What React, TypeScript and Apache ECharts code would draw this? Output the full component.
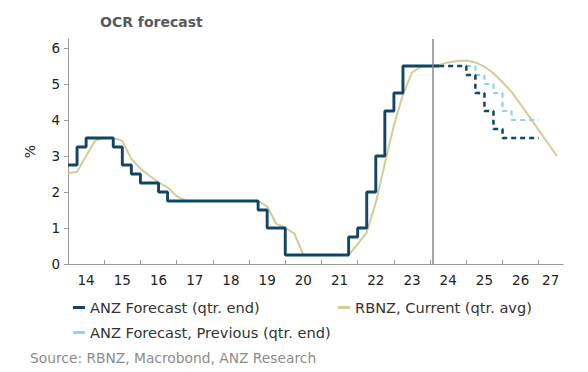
import React, { useEffect, useRef } from "react";
import * as echarts from "echarts";

// ---------- Data ----------
const TITLE = "OCR forecast";
const SOURCE = "Source: RBNZ, Macrobond, ANZ Research";
const Y_NAME = "%";

// Axis ticks (years) and label positions (mid-year; last one mid of partial 2027)
const xTickYears = [2014, 2015, 2016, 2017, 2018, 2019, 2020, 2021, 2022, 2023, 2024, 2025, 2026, 2027];
const xLabelPositions = [2014.5, 2015.5, 2016.5, 2017.5, 2018.5, 2019.5, 2020.5, 2021.5, 2022.5, 2023.5, 2024.5, 2025.5, 2026.5, 2027.33];
const yTicks = [0, 1, 2, 3, 4, 5, 6];
const X_MIN = 2014;
const X_MAX = 2027.67;
const Y_MAX = 6.25;
const CUTOFF = 2024.06;

// ANZ quarter-end OCR, history from 2014 Q1 to 2024 Q1 (drawn over each quarter)
const anzHistoryStart = 2014.0;
const anzHistory = [
  2.75, 3.25, 3.5, 3.5,
  3.5, 3.25, 2.75, 2.5,
  2.25, 2.25, 2.0, 1.75,
  1.75, 1.75, 1.75, 1.75,
  1.75, 1.75, 1.75, 1.75,
  1.75, 1.5, 1.0, 1.0,
  0.25, 0.25, 0.25, 0.25,
  0.25, 0.25, 0.25, 0.75,
  1.0, 2.0, 3.0, 4.25,
  4.75, 5.5, 5.5, 5.5,
  5.5,
];

// ANZ forecasts from 2024 Q2 to 2026 Q4
const anzForecastStart = 2024.25;
const anzForecast = [5.5, 5.5, 5.5, 5.25, 4.75, 4.25, 3.75, 3.5, 3.5, 3.5, 3.5];
const anzPrevious = [5.5, 5.5, 5.5, 5.5, 5.25, 5.0, 4.75, 4.25, 4.0, 4.0, 4.0];

// RBNZ current track, quarterly average (plotted at quarter end), from 2014.0 to 2027.5
const rbnzStart = 2014.0;
const rbnzCurrent = [
  2.52, 2.56, 3.0, 3.43,
  3.5, 3.5, 3.42, 2.92,
  2.65, 2.45, 2.27, 2.13,
  1.88, 1.76, 1.75, 1.75,
  1.75, 1.75, 1.75, 1.75,
  1.75, 1.75, 1.6, 1.12,
  1.0, 0.85, 0.25, 0.25,
  0.25, 0.25, 0.25, 0.25,
  0.55, 0.88, 1.7, 2.8,
  3.85, 4.7, 5.32, 5.48,
  5.5, 5.53, 5.6, 5.64,
  5.65, 5.6, 5.48, 5.3,
  5.05, 4.78, 4.43, 4.08,
  3.72, 3.36, 3.0,
];

const NAME_ANZ = "ANZ Forecast (qtr. end)";
const NAME_RBNZ = "RBNZ, Current (qtr. avg)";
const NAME_PREV = "ANZ Forecast, Previous (qtr. end)";

// ---------- Helpers ----------
function quarterPoints(start: number, vals: number[]) {
  return vals.map((v, i) => [start + i * 0.25, v]);
}
function stepPoints(start: number, vals: number[]) {
  const pts = quarterPoints(start, vals);
  pts.push([start + vals.length * 0.25, vals[vals.length - 1]]);
  return pts;
}

const FONT = "DejaVu Sans";
const DARK = "#0f4666";
const LIGHT = "#8fd3ec";
const TAN = "#d5cb95";
const AXIS = "#9a9a9a";

export default function App() {
  const ref = useRef<HTMLDivElement>(null);
  useEffect(() => {
    if (!ref.current) return;
    const chart = echarts.init(ref.current, null, { renderer: "svg" });
    const legendBase = {
      icon: "rect",
      itemWidth: 12,
      itemHeight: 3,
      padding: 0,
      orient: "horizontal",
      textStyle: { fontFamily: FONT, fontSize: 14.6, color: "#333" },
    };
    chart.setOption({
      animation: false,
      backgroundColor: "#ffffff",
      title: {
        text: TITLE,
        left: 100,
        top: 15,
        padding: 0,
        textStyle: { fontFamily: FONT, fontWeight: "bold", fontSize: 14, color: "#5a5a5a" },
      },
      legend: [
        { ...legendBase, data: [NAME_ANZ], left: 73, top: 300 },
        { ...legendBase, data: [NAME_RBNZ], left: 338, top: 300 },
        { ...legendBase, data: [NAME_PREV], left: 73, top: 325 },
      ],
      graphic: [
        {
          type: "text",
          left: 30,
          top: 351,
          style: { text: SOURCE, fontFamily: FONT, fontSize: 13.8, fill: "#8c8c8c" },
        },
      ],
      grid: { left: 68, right: 25, top: 39, bottom: 108, containLabel: false },
      xAxis: {
        type: "value",
        min: X_MIN,
        max: X_MAX,
        splitLine: { show: false },
        axisLine: { show: true, lineStyle: { color: AXIS, width: 1 } },
        axisTick: { show: true, inside: true, length: 4, customValues: xTickYears, lineStyle: { color: AXIS } },
        axisLabel: {
          customValues: xLabelPositions,
          margin: 9,
          fontFamily: FONT,
          fontSize: 13.5,
          color: "#222",
          formatter: (v: number) => String(Math.floor(v) % 100),
        },
      },
      yAxis: {
        type: "value",
        min: 0,
        max: Y_MAX,
        name: Y_NAME,
        nameLocation: "middle",
        nameGap: 31,
        nameTextStyle: { fontFamily: FONT, fontSize: 14, color: "#222" },
        splitLine: { show: false },
        axisLine: { show: true, lineStyle: { color: AXIS, width: 1 } },
        axisTick: { show: true, inside: false, length: 4, customValues: yTicks, lineStyle: { color: AXIS } },
        axisLabel: {
          customValues: yTicks,
          margin: 8,
          fontFamily: FONT,
          fontSize: 13.5,
          color: "#222",
        },
      },
      series: [
        {
          name: NAME_RBNZ,
          type: "line",
          data: quarterPoints(rbnzStart, rbnzCurrent),
          showSymbol: false,
          symbol: "none",
          lineStyle: { color: TAN, width: 2 },
          itemStyle: { color: TAN },
          z: 2,
        },
        {
          name: NAME_PREV,
          type: "line",
          step: "end",
          data: stepPoints(anzForecastStart, anzPrevious),
          showSymbol: false,
          symbol: "none",
          lineStyle: { color: LIGHT, width: 2.2, type: [5, 4] },
          itemStyle: { color: LIGHT },
          z: 3,
        },
        {
          name: NAME_ANZ,
          type: "line",
          step: "end",
          data: stepPoints(anzHistoryStart, anzHistory),
          showSymbol: false,
          symbol: "none",
          lineStyle: { color: DARK, width: 2.9 },
          itemStyle: { color: DARK },
          z: 4,
          markLine: {
            silent: true,
            symbol: ["none", "none"],
            label: { show: false },
            lineStyle: { color: "#8a8a8a", width: 1.5, type: "solid" },
            data: [{ xAxis: CUTOFF }],
          },
        },
        {
          name: NAME_ANZ,
          type: "line",
          step: "end",
          data: stepPoints(anzForecastStart, anzForecast),
          showSymbol: false,
          symbol: "none",
          lineStyle: { color: DARK, width: 2.5, type: [5, 4] },
          itemStyle: { color: DARK },
          z: 4,
        },
      ],
    });
    return () => chart.dispose();
  }, []);
  return (
    <div
      ref={ref}
      style={{ position: "fixed", left: 0, top: 0, width: 588, height: 372, background: "#fff" }}
    />
  );
}
